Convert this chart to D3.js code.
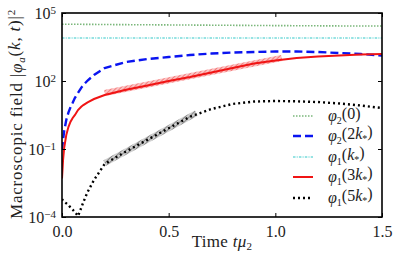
<!DOCTYPE html>
<html><head><meta charset="utf-8">
<script src="https://cdn.jsdelivr.net/npm/d3@7"></script>
<style>
html,body{margin:0;padding:0;background:#fff;}
svg text{font-family:"Liberation Serif","DejaVu Serif",serif;fill:#222;}
</style></head><body>
<svg id="c" width="415" height="256"></svg>
<script>
// ---- data ----
const times = [0, 0.005, 0.01, 0.02, 0.03, 0.04, 0.05, 0.06, 0.075, 0.09, 0.1, 0.12, 0.15, 0.2, 0.3, 0.4, 0.5, 0.6, 0.7, 0.8, 0.9, 1.0, 1.1, 1.2, 1.3, 1.4, 1.5];
const phi2_0  = [32000,32000,32000,31900,31900,31900,31800,31800,31700,31700,31600,31500,31400,31000,30600,30200,29800,29400,29000,28600,28200,27800,27500,27200,26900,26700,26500];
const phi2_2k = [0.09,0.25,0.6,1.9,4.0,7.1,11,17.7,30,50,66.5,105,184,374,688,933,1143,1400,1630,1800,1900,1995,2000,1900,1715,1550,1330];
const phi1_k  = [7900,7900,7900,7900,7900,7900,7900,7900,7900,7900,7900,7900,7900,7900,7900,7900,7900,7900,7900,7900,7900,7900,7900,7900,7900,7900,7900];
const phi1_3k = [0.005,0.033,0.11,0.41,0.93,1.6,2.33,3.1,5.25,7.3,8.7,11.5,16,24,41,63,100,150,237,374,590,800,1030,1200,1330,1470,1550];
const phi1_5k = [6.2e-4,5.2e-4,4.6e-4,4.0e-4,3.4e-4,2.6e-4,2.1e-4,1.66e-4,1.1e-4,2.5e-4,4.5e-4,1.27e-3,4.3e-3,0.0218,0.078,0.254,0.826,2.65,5.8,9.7,12.4,13.1,12.7,11.8,10.2,8.3,6.4];
// fitted growth bands
const bandRedT = [0.2, 1.03], bandRedV = [29.5, 1030];
const bandGreyT = [0.2, 0.63], bandGreyV = [0.024, 3.87];
const xTicks = [0, 0.5, 1.0, 1.5];
const xTickLabels = ["0.0", "0.5", "1.0", "1.5"];
const yTickExps = [-4, -1, 2, 5];
const legendNames = [["φ","2","(0)"],["φ","2","(2k","*",")"],["φ","1","(k","*",")"],["φ","1","(3k","*",")"],["φ","1","(5k","*",")"]];

const svg = d3.select("#c");
const L = 62, R = 382, T = 13, B = 217;
const x = d3.scaleLinear().domain([0, 1.5]).range([L, R]);
const y = d3.scaleLog().domain([1e-4, 1e5]).range([B, T]);

const defs = svg.append("defs");
defs.append("clipPath").attr("id","clip").append("rect").attr("x",L).attr("y",T).attr("width",R-L).attr("height",B-T);
function hatch(id, bg, fg){
  const p = defs.append("pattern").attr("id",id).attr("patternUnits","userSpaceOnUse").attr("width",3).attr("height",3).attr("patternTransform","rotate(45)");
  p.append("rect").attr("width",3).attr("height",3).attr("fill",bg);
  p.append("line").attr("x1",0).attr("y1",0).attr("x2",0).attr("y2",3).attr("stroke",fg).attr("stroke-width",1.4);
}
hatch("hRed","#fcc4c4","#f06060");
hatch("hGrey","#d0d0d0","#6a6a6a");

const g = svg.append("g").attr("clip-path","url(#clip)");
const line = d3.line().x((d,i)=>x(times[i])).y(d=>y(d));
const bandLine = (ts, vs) => d3.line().x((d,i)=>x(ts[i])).y(d=>y(d))(vs);

// bands
g.append("path").attr("d", bandLine(bandRedT, bandRedV)).attr("fill","none").attr("stroke","url(#hRed)").attr("stroke-width",6);
g.append("path").attr("d", bandLine(bandGreyT, bandGreyV)).attr("fill","none").attr("stroke","url(#hGrey)").attr("stroke-width",6);

const styles = [
  {data: phi2_0,  color:"#4f9f4f", w:1.6, dash:"1.5,1.5", op:0.75},
  {data: phi2_2k, color:"#0a14f0", w:2.4, dash:"8,4", op:1},
  {data: phi1_k,  color:"#30c8c8", w:1.2, dash:"2.5,1.2,1,1.2", op:1},
  {data: phi1_3k, color:"#f01414", w:2, dash:null, op:1},
  {data: phi1_5k, color:"#000000", w:2.4, dash:"2,3", op:1}
];
styles.forEach(s=>{
  g.append("path").attr("d", line(s.data)).attr("fill","none").attr("stroke",s.color)
   .attr("stroke-width",s.w).attr("stroke-dasharray",s.dash).attr("opacity",s.op);
});

// axes (inward ticks on all sides)
const ax = svg.append("g");
function styleAxis(sel){ sel.select(".domain").remove(); sel.selectAll(".tick line").attr("stroke","#000"); }
ax.append("g").attr("transform",`translate(0,${B})`)
  .call(d3.axisBottom(x).tickValues(xTicks).tickSize(-4).tickPadding(9).tickFormat((d,i)=>xTickLabels[i]))
  .call(styleAxis).selectAll("text").attr("font-size",16).attr("font-family","Liberation Serif").attr("fill","#222");
ax.append("g").attr("transform",`translate(0,${T})`)
  .call(d3.axisTop(x).tickValues(xTicks).tickSize(-4).tickFormat(""))
  .call(styleAxis);
const yTickVals = yTickExps.map(e=>Math.pow(10,e));
const yl = ax.append("g").attr("transform",`translate(${L},0)`)
  .call(d3.axisLeft(y).tickValues(yTickVals).tickSize(-4).tickPadding(6).tickFormat(""))
  .call(styleAxis);
yl.selectAll(".tick").each(function(d,i){
  const t = d3.select(this).append("text").attr("x",-6).attr("dy","0.35em").attr("text-anchor","end").attr("font-size",16);
  t.append("tspan").text("10");
  t.append("tspan").attr("dy","-0.45em").attr("font-size",11).text(String(yTickExps[i]).replace("-","−"));
});
ax.append("g").attr("transform",`translate(${R},0)`)
  .call(d3.axisRight(y).tickValues(yTickVals).tickSize(-4).tickFormat(""))
  .call(styleAxis);
svg.append("rect").attr("x",L).attr("y",T).attr("width",R-L).attr("height",B-T).attr("fill","none").attr("stroke","#000").attr("stroke-width",1.6);

// axis labels
const xl = svg.append("text").attr("x",222).attr("y",247).attr("text-anchor","middle").attr("font-size",17).attr("letter-spacing",0.3);
xl.append("tspan").text("Time ");
xl.append("tspan").attr("font-style","italic").text("tμ");
xl.append("tspan").attr("dy","0.3em").attr("font-size",11).text("2");

const ylab = svg.append("text").attr("transform","translate(22,114) rotate(-90)").attr("text-anchor","middle").attr("font-size",17).attr("letter-spacing",0.8);
ylab.append("tspan").text("Macroscopic field |");
ylab.append("tspan").attr("font-style","italic").text("φ");
ylab.append("tspan").attr("font-style","italic").attr("dy","0.3em").attr("font-size",11).text("a");
ylab.append("tspan").attr("dy","-0.3em").text("(");
ylab.append("tspan").attr("font-style","italic").text("k");
ylab.append("tspan").text(", ");
ylab.append("tspan").attr("font-style","italic").text("t");
ylab.append("tspan").text(")|");
ylab.append("tspan").attr("dy","-0.45em").attr("font-size",11).text("2");

// legend
const legY = [116, 136, 157, 177, 198];
styles.forEach((s,i)=>{
  svg.append("line").attr("x1",293).attr("x2",313).attr("y1",legY[i]).attr("y2",legY[i])
    .attr("stroke",s.color).attr("stroke-width",s.w).attr("stroke-dasharray",s.dash).attr("opacity",s.op);
  const n = legendNames[i];
  const t = svg.append("text").attr("x",328).attr("y",legY[i]+5).attr("font-size",16);
  t.append("tspan").attr("font-style","italic").text(n[0]);
  t.append("tspan").attr("dy","0.3em").attr("font-size",10).text(n[1]);
  if(n.length===3){
    t.append("tspan").attr("dy","-0.3em").text(n[2]);
  } else {
    const m = n[2].match(/^\((\d?)k$/);
    t.append("tspan").attr("dy","-0.3em").text("(" + m[1]);
    t.append("tspan").attr("font-style","italic").text("k");
    t.append("tspan").attr("dy","0.3em").attr("font-size",10).text(n[3]);
    t.append("tspan").attr("dy","-0.3em").text(n[4]);
  }
});
</script>
</body></html>
